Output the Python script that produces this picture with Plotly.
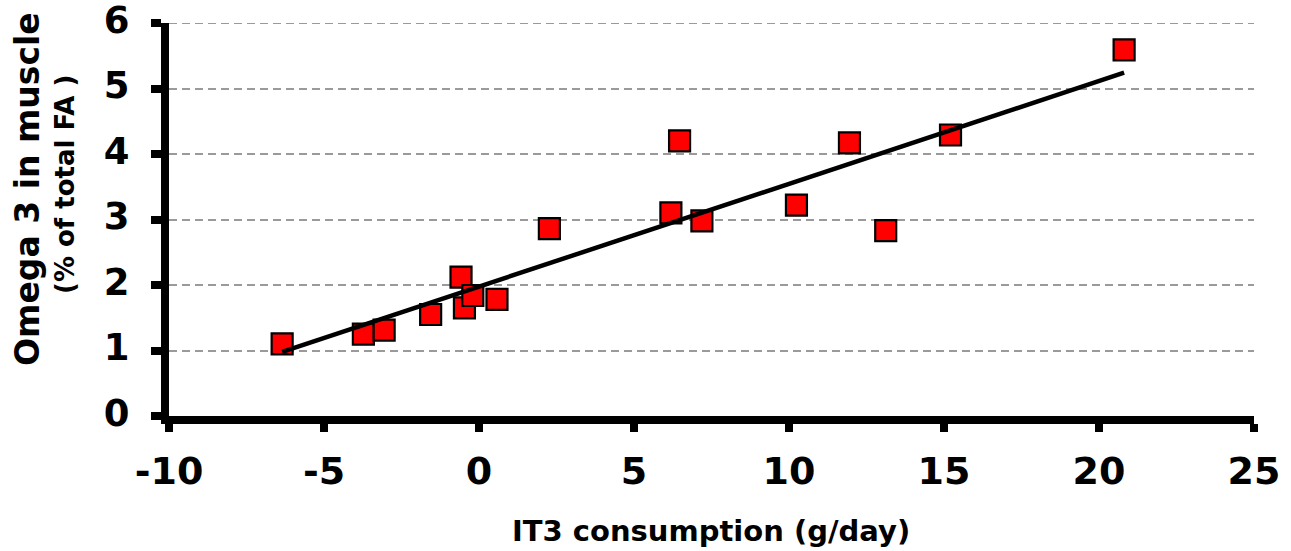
import numpy as np
import plotly.graph_objects as go

# Data
it3_consumption = [-6.35, -3.73, -3.06, -1.56, -0.58, -0.47, -0.20, 0.58, 2.27,
                   6.47, 6.19, 7.19, 10.24, 11.95, 13.12, 15.21, 20.81]
omega3_muscle = [1.10, 1.25, 1.31, 1.55, 2.12, 1.65, 1.84, 1.78, 2.86,
                 4.20, 3.10, 2.98, 3.22, 4.17, 2.83, 4.29, 5.59]
x_ticks = [-10, -5, 0, 5, 10, 15, 20, 25]
y_ticks = [0, 1, 2, 3, 4, 5, 6]

# Linear trendline fitted to the data (as the original chart's trendline)
slope, intercept = np.polyfit(it3_consumption, omega3_muscle, 1)
trend_x = [min(it3_consumption), max(it3_consumption)]
trend_y = [slope * v + intercept for v in trend_x]

FONT = "DejaVu Sans"
W, H = 1291, 551
L, R, T, B = 169, 37, 23, 135
PW, PH = W - L - R, H - T - B

fig = go.Figure()
fig.add_trace(go.Scatter(
    x=it3_consumption, y=omega3_muscle, mode="markers",
    marker=dict(symbol="square", size=21, color="#ff0000",
                line=dict(color="black", width=2.2)),
    showlegend=False, hoverinfo="x+y"))
fig.add_trace(go.Scatter(
    x=trend_x, y=trend_y, mode="lines",
    line=dict(color="black", width=4.5),
    showlegend=False, hoverinfo="skip"))

fig.update_layout(
    width=W, height=H,
    margin=dict(l=L, r=R, t=T, b=B, pad=0, autoexpand=False),
    paper_bgcolor="white", plot_bgcolor="white",
    font=dict(family=FONT, color="black"),
)
fig.update_xaxes(
    range=[-10, 25], tickvals=x_ticks, ticktext=[str(v) for v in x_ticks],
    showgrid=False, zeroline=False, automargin=False,
    showline=True, linecolor="black", linewidth=8,
    ticks="outside", ticklen=8, tickwidth=8, tickcolor="black",
    tickfont=dict(family=FONT, size=38, color="black", weight="bold"),
    ticklabelstandoff=6, ticklabeloverflow="allow",
)
fig.update_yaxes(
    range=[0, 6], tickvals=y_ticks, ticktext=[str(v) for v in y_ticks],
    showgrid=True, gridcolor="#9a9a9a", gridwidth=2, griddash="8px,5px",
    zeroline=False, automargin=False,
    showline=True, linecolor="black", linewidth=8,
    ticks="outside", ticklen=10, tickwidth=8, tickcolor="black",
    tickfont=dict(family=FONT, size=37, color="black", weight="bold"),
    ticklabelstandoff=14, ticklabelshift=-3, ticklabeloverflow="allow",
)

# top gridline at y = 6 (plotly omits the gridline at the range edge)
fig.add_shape(type="line", xref="x", yref="y", x0=-10, x1=25, y0=6, y1=6,
              line=dict(color="#9a9a9a", width=2, dash="8px,5px"), layer="below")

def px_x(p):
    return (p - L) / PW

def px_y(p):
    return (H - B - p) / PH

fig.add_annotation(
    text="Omega 3 in muscle", textangle=-90,
    xref="paper", yref="paper", x=px_x(27), y=px_y(189),
    xanchor="center", yanchor="middle", showarrow=False,
    font=dict(family=FONT, size=33, color="black", weight="bold"))
fig.add_annotation(
    text="(% of total FA )", textangle=-90,
    xref="paper", yref="paper", x=px_x(65), y=px_y(184),
    xanchor="center", yanchor="middle", showarrow=False,
    font=dict(family=FONT, size=26, color="black", weight="bold"))
fig.add_annotation(
    text="IT3 consumption (g/day)",
    xref="paper", yref="paper", x=px_x(711), y=px_y(531),
    xanchor="center", yanchor="middle", showarrow=False,
    font=dict(family=FONT, size=29, color="black", weight="bold"))

fig.write_html("out.html",
               config={"displayModeBar": False},
               post_script="document.body.style.margin='0';document.body.style.overflow='hidden';")
